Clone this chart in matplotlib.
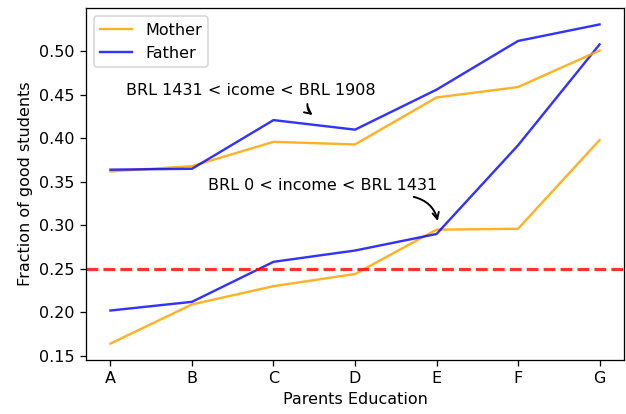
import matplotlib
matplotlib.use("Agg")
import matplotlib.pyplot as plt

# Parents' education levels
education = ["A", "B", "C", "D", "E", "F", "G"]

# Fraction of good students, low-income group (BRL 0 - 1431)
mother_low = [0.164, 0.209, 0.230, 0.244, 0.295, 0.296, 0.398]
father_low = [0.202, 0.212, 0.258, 0.271, 0.290, 0.392, 0.508]

# Fraction of good students, middle-income group (BRL 1431 - 1908)
mother_mid = [0.362, 0.368, 0.396, 0.393, 0.447, 0.459, 0.501]
father_mid = [0.364, 0.365, 0.421, 0.410, 0.456, 0.512, 0.531]

baseline = 0.25

dpi = 115
fig = plt.figure(figsize=(626 / dpi, 414 / dpi), dpi=dpi)
ax = fig.add_axes([0.1374, 0.1316, 0.8594, 0.8479])

x = range(len(education))
ax.plot(x, mother_low, color="orange", alpha=0.85, label="Mother")
ax.plot(x, father_low, color="blue", alpha=0.8, label="Father")
ax.plot(x, mother_mid, color="orange", alpha=0.85)
ax.plot(x, father_mid, color="blue", alpha=0.8)

ax.axhline(baseline, color="red", linestyle="--", linewidth=2, alpha=0.8)

ax.set_xticks(list(x))
ax.set_xticklabels(education)
ax.set_xlabel("Parents Education")
ax.set_ylabel("Fraction of good students")
ax.legend(loc="upper left")

# Income-group labels with curved pointers
ax.text(1.725, 0.4556, "BRL 1431 < icome < BRL 1908", ha="center", va="center")
ax.annotate("", xy=(2.48, 0.4268), xytext=(2.416, 0.4395),
            arrowprops=dict(arrowstyle="->", color="black", lw=1.2,
                            shrinkA=0, shrinkB=0,
                            connectionstyle="arc3,rad=0.25"))

ax.text(2.60, 0.3462, "BRL 0 < income < BRL 1431", ha="center", va="center")
ax.annotate("", xy=(4.015, 0.305), xytext=(3.72, 0.3327),
            arrowprops=dict(arrowstyle="->", color="black", lw=1.2,
                            shrinkA=0, shrinkB=0,
                            connectionstyle="arc3,rad=-0.3"))

fig.savefig("out.png", dpi=dpi)
